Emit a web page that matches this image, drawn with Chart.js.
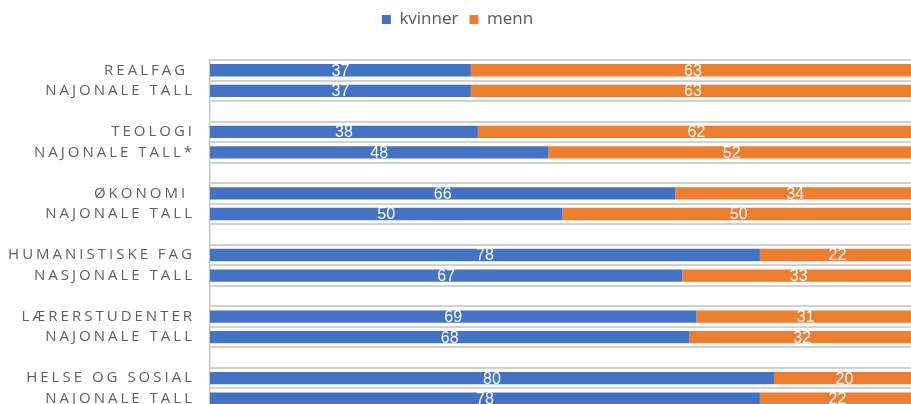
<!DOCTYPE html>
<html>
<head>
<meta charset="utf-8">
<script src="https://cdn.jsdelivr.net/npm/chart.js@4/dist/chart.umd.min.js"></script>
<style>
  html, body { margin: 0; padding: 0; overflow: hidden; background: #fff; }
  #chart-0 { display: block; }
</style>
</head>
<body>
<canvas id="chart-0" width="915" height="409"></canvas>
<script>
// categories, blank strings are the empty spacer rows between groups
var categories = ['REALFAG ', 'NAJONALE TALL', '',
  'TEOLOGI', 'NAJONALE TALL*', '',
  'ØKONOMI ', 'NAJONALE TALL', '',
  'HUMANISTISKE FAG', 'NASJONALE TALL', '',
  'LÆRERSTUDENTER', 'NAJONALE TALL', '',
  'HELSE OG SOSIAL', 'NAJONALE TALL'];

var kvinner = [37, 37, null, 38, 48, null, 66, 50, null, 78, 67, null, 69, 68, null, 80, 78];
var menn    = [63, 63, null, 62, 52, null, 34, 50, null, 22, 33, null, 31, 32, null, 20, 22];

var seriesNames = ['kvinner', 'menn'];

document.addEventListener("DOMContentLoaded", function() {

  var labelFont = '15px "Open Sans", sans-serif';
  var valueFont = '16px "Liberation Sans Narrow", "Liberation Sans", sans-serif';

  // y labels are drawn here instead of as ticks so the letter spacing
  // does not also leak into the legend text
  var spacedLabels = {
    id: 'spacedLabels',
    afterDraw: function(chart) {
      var ctx = chart.ctx;
      var y = chart.scales.y;
      ctx.save();
      ctx.letterSpacing = '3px';
      ctx.font = labelFont;
      ctx.fillStyle = '#606060';
      ctx.textAlign = 'right';
      ctx.textBaseline = 'middle';
      categories.forEach(function(lab, i) {
        if (!lab) return;
        ctx.fillText(lab, y.right - 15, y.getPixelForValue(i));
      });
      ctx.restore();
    }
  };

  // white value labels centred in every segment
  var valueLabels = {
    id: 'valueLabels',
    afterDatasetsDraw: function(chart) {
      var ctx = chart.ctx;
      ctx.save();
      ctx.font = valueFont;
      ctx.fillStyle = '#ffffff';
      ctx.textAlign = 'center';
      ctx.textBaseline = 'middle';
      chart.data.datasets.forEach(function(ds, di) {
        chart.getDatasetMeta(di).data.forEach(function(bar, i) {
          if (ds.data[i] == null) return;
          var p = bar.getCenterPoint();
          ctx.fillText(ds.data[i], p.x, p.y + 1);
        });
      });
      ctx.restore();
    }
  };

  new Chart(document.getElementById('chart-0'), {
    type: 'bar',
    data: {
      labels: categories,
      datasets: [
        { label: seriesNames[0], data: kvinner, backgroundColor: '#4472C4' },
        { label: seriesNames[1], data: menn, backgroundColor: '#ED7D31' }
      ]
    },
    options: {
      indexAxis: 'y',
      responsive: false,
      animation: false,
      devicePixelRatio: 1,
      layout: { padding: 0 },
      datasets: { bar: { barPercentage: 0.6, categoryPercentage: 1 } },
      scales: {
        x: {
          stacked: true, min: 0, max: 100, position: 'top',
          grid: { display: false }, border: { display: false },
          ticks: { display: false },
          afterFit: function(s) { s.height = 22; } // pushes plot top down to the first gridline
        },
        y: {
          stacked: true,
          afterFit: function(s) { s.width = 210; },
          ticks: { display: false },
          grid: { color: '#d2d2d2', lineWidth: 2, drawTicks: false, offset: true },
          border: { display: true, color: '#c4c4c4', width: 1.5 }
        }
      },
      plugins: {
        legend: {
          position: 'top',
          labels: {
            boxWidth: 9, boxHeight: 9, padding: 11,
            color: '#595959',
            font: { family: '"Open Sans", sans-serif', size: 17 }
          }
        },
        tooltip: { enabled: false }
      }
    },
    plugins: [spacedLabels, valueLabels]
  });

});
</script>
</body>
</html>
